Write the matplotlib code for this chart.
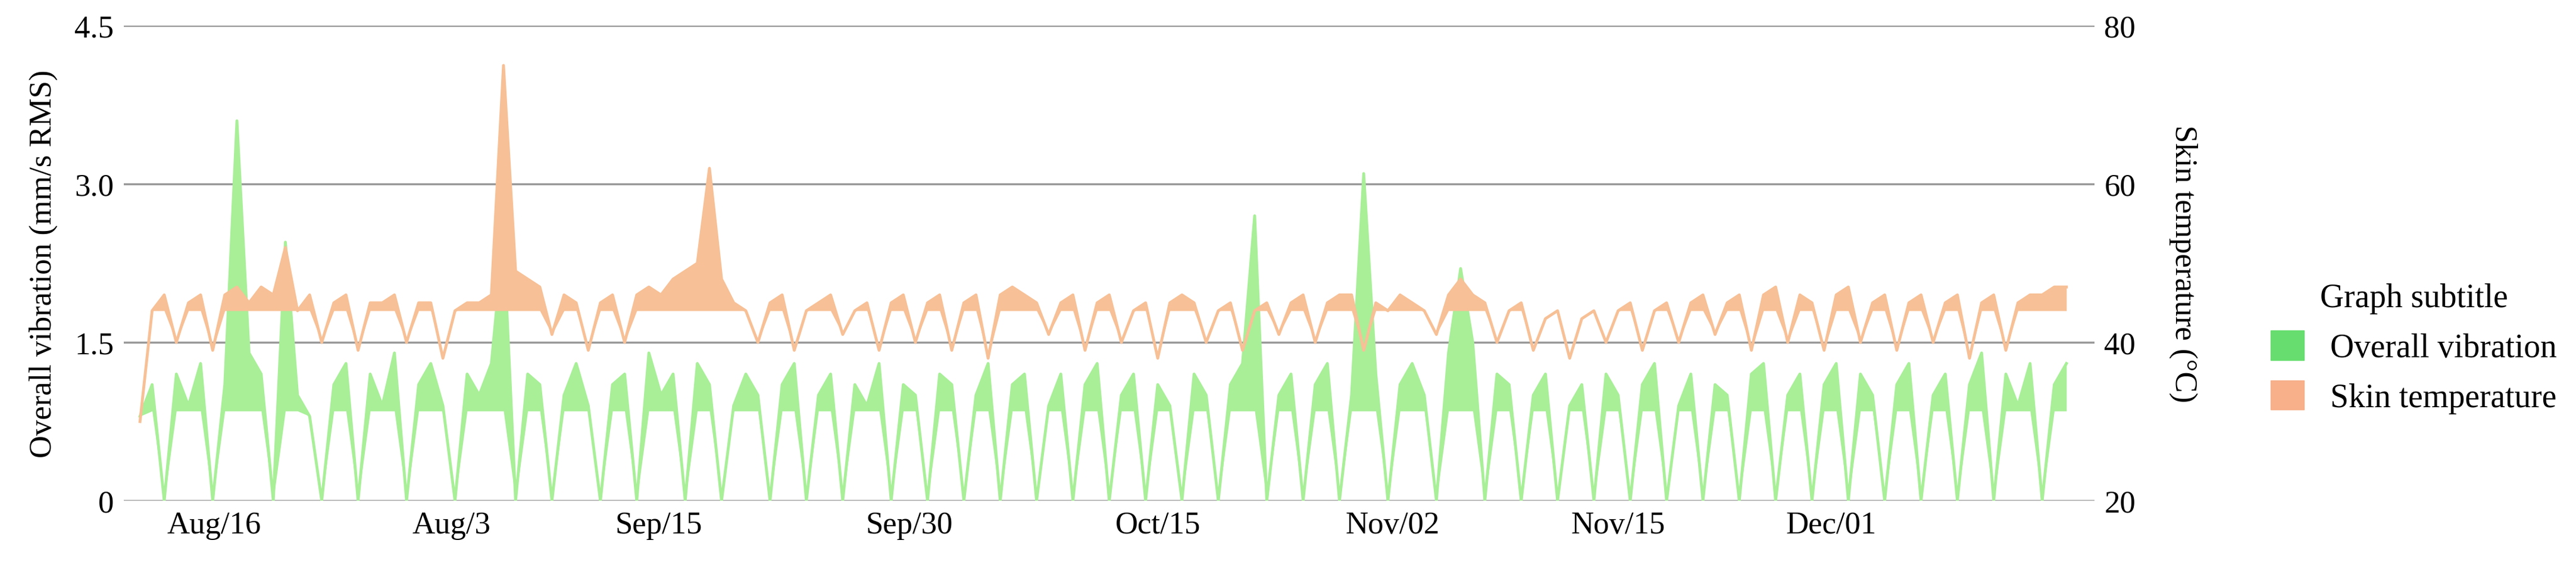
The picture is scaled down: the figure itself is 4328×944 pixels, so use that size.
import matplotlib
matplotlib.use("Agg")
import matplotlib.pyplot as plt
from matplotlib.patches import Patch

vibration = [0.8,1.1,0.0,1.2,0.9,1.3,0.0,1.1,3.6,1.4,
 1.2,0.0,2.45,1.0,0.8,0.0,1.1,1.3,0.0,1.2,
 0.9,1.4,0.0,1.1,1.3,0.9,0.0,1.2,1.0,1.3,
 2.5,0.0,1.2,1.1,0.0,1.0,1.3,0.9,0.0,1.1,
 1.2,0.0,1.4,1.0,1.2,0.0,1.3,1.1,0.0,0.9,
 1.2,1.0,0.0,1.1,1.3,0.0,1.0,1.2,0.0,1.1,
 0.9,1.3,0.0,1.1,1.0,0.0,1.2,1.1,0.0,1.0,
 1.3,0.0,1.1,1.2,0.0,0.9,1.2,0.0,1.1,1.3,
 0.0,1.0,1.2,0.0,1.1,0.9,0.0,1.2,1.0,0.0,
 1.1,1.3,2.7,0.0,1.0,1.2,0.0,1.1,1.3,0.0,
 1.0,3.1,1.2,0.0,1.1,1.3,1.0,0.0,1.4,2.2,
 1.5,0.0,1.2,1.1,0.0,1.0,1.2,0.0,0.9,1.1,
 0.0,1.2,1.0,0.0,1.1,1.3,0.0,0.9,1.2,0.0,
 1.1,1.0,0.0,1.2,1.3,0.0,1.0,1.2,0.0,1.1,
 1.3,0.0,1.2,1.0,0.0,1.1,1.3,0.0,1.0,1.2,
 0.0,1.1,1.4,0.0,1.2,0.9,1.3,0.0,1.1,1.3]

temperature = [30,44,46,40,45,46,39,46,47,45,
 47,46,52,44,46,40,45,46,39,45,
 45,46,40,45,45,38,44,45,45,46,
 75,49,48,47,41,46,45,39,45,46,
 40,46,47,46,48,49,50,62,48,45,
 44,40,45,46,39,44,45,46,41,44,
 45,39,45,46,40,45,46,39,45,46,
 38,46,47,46,45,41,45,46,39,45,
 46,40,44,45,38,45,46,45,40,44,
 45,39,44,45,41,45,46,40,45,46,
 46,39,45,44,46,45,44,41,46,48,
 46,45,40,44,45,39,43,44,38,43,
 44,40,44,45,39,44,45,40,45,46,
 41,45,46,39,46,47,40,46,45,39,
 46,47,40,45,46,39,45,46,40,45,
 46,38,45,46,39,45,46,46,47,47]

tick_labels = ["Aug/16","Aug/3","Sep/15","Sep/30","Oct/15","Nov/02","Nov/15","Dec/01"]
tick_pos = [6.1,25.7,42.8,63.5,84.0,103.4,122.0,139.6]

plt.rcParams['font.family'] = ['Liberation Serif','DejaVu Serif']
FS = 38
fig = plt.figure(figsize=(43.28,9.45), dpi=100)
ax = fig.add_axes([0.048,0.109,0.765,0.844])
x = list(range(len(vibration)))
ax.fill_between(x, [min(v, 0.85) for v in vibration], vibration, color='#a8ef98', lw=0, zorder=2)
ax.plot(x, vibration, color='#a8ef98', lw=3.5, zorder=2)
ax.set_ylim(0,4.5); ax.set_yticks([0,1.5,3.0,4.5]); ax.set_yticklabels(["0","1.5","3.0","4.5"])
ax.set_xlim(-1.35,161.3)
ax.set_xticks(tick_pos); ax.set_xticklabels(tick_labels)
ax.grid(axis='y', color='#999999', lw=2.5)
ax.set_axisbelow(True)
for s in ax.spines.values(): s.set_visible(False)
ax.tick_params(length=0, labelsize=FS, pad=12)
ax.set_ylabel("Overall vibration (mm/s RMS)", fontsize=FS, labelpad=20)

ax2 = ax.twinx()
ax2.fill_between(x, [min(t, 44) for t in temperature], temperature, color='#f7c096', lw=0, zorder=3)
ax2.plot(x, temperature, color='#f7c096', lw=3.5, zorder=3)
ax2.set_ylim(20,80); ax2.set_yticks([20,40,60,80])
for s in ax2.spines.values(): s.set_visible(False)
ax2.tick_params(length=0, labelsize=FS, pad=12)
ax2.set_ylabel("Skin temperature (°C)", fontsize=FS, rotation=270, labelpad=75)

handles = [Patch(color='#66dd6e', label='Overall vibration'), Patch(color='#f7b08a', label='Skin temperature')]
fig.legend(handles=handles, title="Graph subtitle", loc='center left', bbox_to_anchor=(0.87,0.38),
           frameon=False, fontsize=40, title_fontsize=40, handlelength=1.0, handleheight=1.0)
fig.savefig("out.png", dpi=100)
